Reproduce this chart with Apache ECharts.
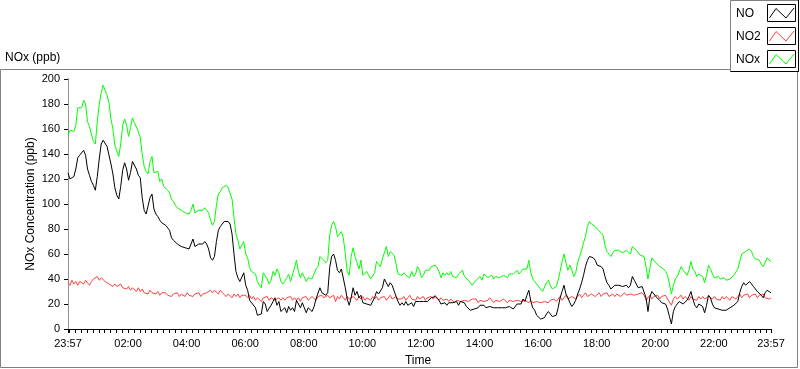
<!DOCTYPE html>
<html><head><meta charset="utf-8">
<script src="https://cdn.jsdelivr.net/npm/echarts@6/dist/echarts.min.js"></script>
<style>html,body{margin:0;padding:0;background:#fff}#c{width:800px;height:369px}</style>
</head><body><div id="c"></div>
<script>
// minutes since 23:57, sampled every 4 minutes
const stepMinutes = 4;

const NO = [
125,120,121,122,128,137,139,140,143,139,
128,123,118,115,111,122,136,148,151,150,
146,139,132,124,113,107,104,114,127,133,
128,119,125,134,133,128,123,121,105,95,
92,93,105,108,96,92,90,87,85,85,
83,82,79,73,71,70,68,67,66,65,
65,65,64,68,72,66,66,68,68,68,
70,68,64,57,55,58,70,79,82,84,
86,85,86,84,76,60,46,41,38,39,
45,
35,31,23,21,22,17,11,10,12,22,
20,14,13,19,22,25,19,22,14,14,
17,13,18,15,17,14,23,20,17,21,
17,13,17,18,14,18,24,25,33,29,
29,27,29,49,58,60,55,47,45,48,
49,33,24,19,25,33,27,30,25,27,
21,21,20,21,19,18,25,30,28,29,
33,40,37,34,37,35,36,26,22,19,
21,19,22,19,20,21,18,22,23,22,
22,22,23,22,23,25,24,26,25,23,
20,19,21,19,21,20,21,21,22,19,
22,23,21,18,17,15,14,16,15,17,
19,18,19,17,17,18,19,17,18,17,
17,17,18,17,16,18,18,16,17,20,
21,20,24,22,27,31,22,17,15,11,
10,8,7,9,12,14,12,10,9,11,
17,25,30,35,28,25,21,18,20,23,
28,32,37,43,50,55,58,58,57,55,
51,50,50,48,42,37,35,32,32,35,
36,35,35,34,35,35,33,35,42,39,
36,33,32,34,35,25,14,26,30,28,
26,27,23,21,22,20,16,10,4,14,
18,20,22,23,20,21,23,26,30,24,
19,17,20,19,18,13,19,27,25,20,
17,17,16,17,15,16,15,14,17,17,
19,18,22,29,34,37,35,36,38,37,
34,32,30,31,27,25,29,31,30,29
];

const NO2 = [
37,35,39,36,38,35,38,39,36,39,
37,35,38,40,39,42,39,41,40,38,
39,36,37,34,36,34,35,36,33,34,
32,34,31,33,32,30,33,30,32,29,
30,28,31,29,30,28,30,27,29,28,
29,27,28,26,28,27,29,26,28,27,
26,29,27,28,26,28,27,29,26,28,
27,29,28,31,29,31,30,28,31,29,
28,26,28,27,25,28,26,28,25,27,
26,
27,25,27,24,26,23,25,24,22,25,
24,26,23,25,26,23,24,25,23,25,
23,25,24,26,23,25,23,25,22,25,
24,26,23,24,26,25,23,26,25,27,
25,26,27,25,24,27,22,26,24,27,
25,23,26,24,23,26,25,23,26,24,
26,23,25,26,23,26,24,26,23,25,
24,26,23,25,27,24,23,26,24,25,
24,26,23,25,27,24,25,23,26,24,
24,26,23,25,24,26,24,27,25,23,
25,23,22,24,22,24,23,21,23,24,
22,21,23,24,22,21,24,23,24,21,
23,24,22,21,23,25,23,21,23,24,
22,21,24,23,21,23,24,22,21,23,
24,22,21,23,24,21,23,21,20,22,
23,21,20,22,23,21,23,22,24,22,
24,26,23,25,27,24,23,26,25,24,
26,28,25,27,29,26,25,28,27,26,
27,29,26,28,27,29,26,27,28,26,
28,29,26,27,29,27,26,28,29,27,
26,28,27,29,27,23,25,27,24,26,
25,27,24,26,25,27,24,23,19,24,
26,24,25,27,24,26,25,23,26,24,
25,23,26,24,26,24,23,26,25,24,
26,24,25,23,26,24,26,25,23,26,
25,24,26,28,25,27,26,28,25,27,
26,28,25,27,26,28,25,26,24,25
];

const NOx = [
155,159,160,158,163,177,178,177,183,180,
166,162,156,150,148,166,180,189,195,191,
187,181,168,160,147,146,138,148,163,168,
163,154,161,169,165,164,158,153,140,130,
126,124,134,138,125,125,126,118,120,114,
113,111,109,104,102,99,97,96,95,94,
93,93,92,95,100,93,94,95,95,95,
97,98,93,87,83,86,99,108,110,113,
114,115,113,114,104,89,76,71,64,64,
70,
60,57,49,46,46,44,38,35,33,45,
44,40,36,39,46,43,48,45,38,36,
38,41,44,38,38,49,55,46,41,45,
45,38,41,42,40,44,48,50,58,58,
55,53,55,75,83,86,82,74,74,78,
73,60,46,43,58,65,58,53,48,55,
43,42,46,43,40,40,45,54,55,50,
56,61,66,58,62,62,59,52,44,45,
43,45,43,43,41,46,42,44,50,47,
41,43,47,47,47,50,49,51,49,46,
41,45,43,45,43,46,42,43,41,44,
45,47,42,43,39,37,35,37,39,40,
42,39,44,44,41,42,43,40,42,43,
41,40,43,42,41,44,43,44,45,47,
44,46,48,47,48,55,45,40,38,36,
35,32,30,31,37,39,35,32,32,34,
39,46,54,60,53,47,51,47,42,45,
53,58,63,69,74,82,86,84,83,82,
80,79,77,75,67,62,60,58,61,63,
62,63,62,61,61,63,62,60,66,66,
63,62,59,59,58,50,40,49,57,55,
53,52,50,50,48,46,43,36,28,35,
40,42,43,50,47,46,43,47,54,48,
46,42,44,43,42,37,43,51,48,44,
41,40,42,40,40,41,39,38,40,39,
43,44,48,54,60,61,62,62,64,62,
58,56,57,55,52,50,53,57,55,54
];

const tickMinutes = [0,123,243,363,483,603,723,843,963,1083,1203,1323,1440];
const tickLabels = ['23:57','02:00','04:00','06:00','08:00','10:00','12:00','14:00','16:00','18:00','20:00','22:00','23:57'];
const seriesNames = ['NO','NO2','NOx'];
const seriesColors = ['#000000','#ff4040','#00ff00'];

const minorTicks = [0];
for (let t = 3; t < 1440; t += 12) minorTicks.push(t);
minorTicks.push(1440);

const FONT = '"Liberation Sans", Arial, sans-serif';
const toPairs = arr => arr.map((v, i) => [i * stepMinutes, v]);

const chart = echarts.init(document.getElementById('c'));

const legendGraphics = [];
seriesNames.forEach((name, i) => {
  const by = 4.5 + i * 23;
  legendGraphics.push({
    type: 'text', x: 736, y: by + 9,
    style: { text: name, font: '12px ' + FONT, fill: '#000', align: 'left', verticalAlign: 'middle' },
    z: 20
  });
  legendGraphics.push({
    type: 'rect', x: 0, y: 0,
    shape: { x: 767.5, y: by, width: 28, height: 17 },
    style: { fill: '#fff', stroke: '#000', lineWidth: 1 }, z: 20
  });
  legendGraphics.push({
    type: 'polyline', x: 0, y: 0,
    shape: { points: [[769.5, by + 13.5], [776, by + 4], [786, by + 13.5], [794, by + 3.5]] },
    style: { fill: 'none', stroke: seriesColors[i], lineWidth: 1 }, z: 21
  });
});

chart.setOption({
  animation: false,
  backgroundColor: '#fff',
  grid: { left: 68, top: 79, width: 703, height: 250, containLabel: false },
  xAxis: [{
    type: 'value', min: 0, max: 1440, position: 'bottom',
    axisLine: { show: true, lineStyle: { color: '#808080', width: 1 } },
    axisTick: { show: true, customValues: minorTicks, length: 4, lineStyle: { color: '#000' } },
    axisLabel: {
      customValues: tickMinutes, showMinLabel: true, showMaxLabel: true,
      formatter: v => { const i = tickMinutes.indexOf(v); return i >= 0 ? tickLabels[i] : ''; },
      fontSize: 11, fontFamily: FONT, color: '#000', margin: 9
    },
    splitLine: { show: false }
  }, {
    type: 'value', min: 0, max: 1440, position: 'top',
    axisLine: { show: true, lineStyle: { color: '#000', width: 1 } },
    axisTick: { show: false }, axisLabel: { show: false }, splitLine: { show: false }
  }],
  yAxis: [{
    type: 'value', min: 0, max: 200, interval: 20, position: 'left',
    axisLine: { show: true, lineStyle: { color: '#000', width: 1 } },
    axisTick: { show: true, length: 4, lineStyle: { color: '#000' } },
    axisLabel: { fontSize: 11, fontFamily: FONT, color: '#000', margin: 8 },
    splitLine: { show: false }
  }, {
    type: 'value', min: 0, max: 200, interval: 20, position: 'right',
    axisLine: { show: true, lineStyle: { color: '#909090', width: 1 } },
    axisTick: { show: false }, axisLabel: { show: false }, splitLine: { show: false }
  }],
  series: [
    { name: 'NOx', type: 'line', data: toPairs(NOx), showSymbol: false, symbol: 'none',
      lineStyle: { color: seriesColors[2], width: 1 }, itemStyle: { color: seriesColors[2] } },
    { name: 'NO2', type: 'line', data: toPairs(NO2), showSymbol: false, symbol: 'none',
      lineStyle: { color: seriesColors[1], width: 1 }, itemStyle: { color: seriesColors[1] } },
    { name: 'NO', type: 'line', data: toPairs(NO), showSymbol: false, symbol: 'none',
      lineStyle: { color: seriesColors[0], width: 1 }, itemStyle: { color: seriesColors[0] } }
  ],
  graphic: [
    { type: 'rect', x: 0, y: 0, shape: { x: 0.5, y: 69.5, width: 797, height: 298 },
      style: { fill: 'none', stroke: '#808080', lineWidth: 1 }, z: 0, silent: true },
    { type: 'rect', x: 0, y: 0, shape: { x: 730.5, y: 0.5, width: 68, height: 71 },
      style: { fill: '#fff', stroke: '#808080', lineWidth: 1 }, z: 10 },
    { type: 'polyline', x: 0, y: 0, shape: { points: [[730.5, 71.5], [798.5, 71.5], [798.5, 0]] },
      style: { fill: 'none', stroke: '#000', lineWidth: 1 }, z: 11 },
    { type: 'text', x: 5, y: 58,
      style: { text: 'NOx (ppb)', font: '12px ' + FONT, fill: '#000', align: 'left', verticalAlign: 'middle' } },
    { type: 'text', x: 31, y: 204, rotation: Math.PI / 2,
      style: { text: 'NOx Concentration (ppb)', font: '12px ' + FONT, fill: '#000', align: 'center', verticalAlign: 'middle' } },
    { type: 'text', x: 418, y: 361,
      style: { text: 'Time', font: '12px ' + FONT, fill: '#000', align: 'center', verticalAlign: 'middle' } }
  ].concat(legendGraphics)
});
</script>
</body></html>
